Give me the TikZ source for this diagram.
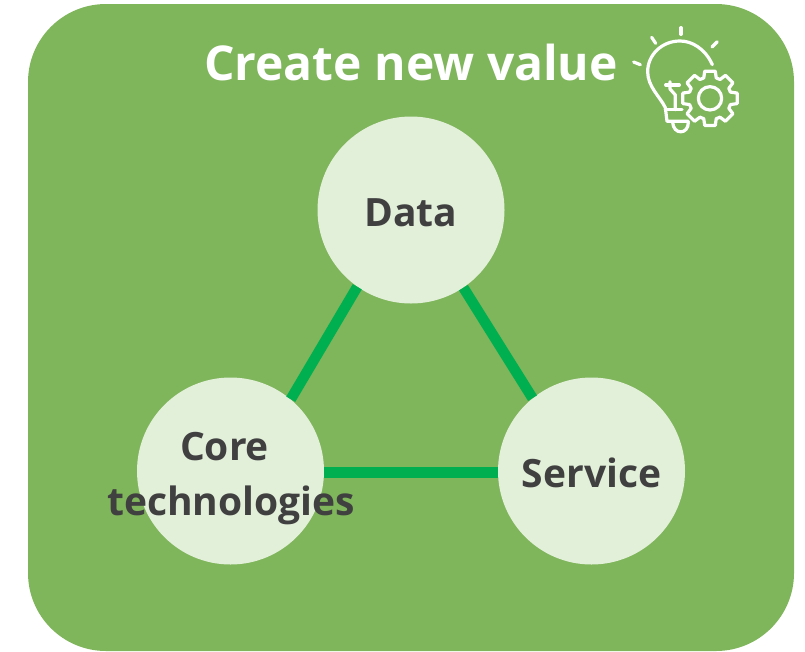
\documentclass[tikz,border=0pt]{standalone}
\usepackage{fontspec}
\setmainfont{Open Sans}
\usetikzlibrary{calc}
\definecolor{panel}{HTML}{7FB55B}
\definecolor{disc}{HTML}{E2EFD9}
\definecolor{link}{HTML}{00B050}
\definecolor{ink}{HTML}{404040}
\tikzset{
  disk/.style={circle,fill=disc,minimum size=187pt,inner sep=0pt},
  disklabel/.style={text=ink,inner sep=0pt,font=\fontsize{39}{55}\selectfont\bfseries,align=center},
  linkline/.style={draw=link,line width=10.5pt},
  icon/.style={draw=white,line width=3.2pt,line cap=round,line join=round}
}
\begin{document}
\begin{tikzpicture}[x=1pt,y=-1pt]
\useasboundingbox (0,0) rectangle (805,651);
\fill[panel,rounded corners=78pt] (28,4) rectangle (794,651);
\node[disk] (data) at (411,210) {};
\node[disk] (core) at (230.5,471) {};
\node[disk] (service) at (591.5,471) {};
\draw[linkline] (data.235.8) -- (core.50.7);
\draw[linkline] (data.304.7) -- (service.129.3);
\draw[linkline] (core.-1.9) -- (service.181.9);
\node[disklabel] (dataT) at (411,213) {Data};
\node[disklabel] (coreT) at (231,479) {Core\hspace{13pt}\null\\technologies};
\node[disklabel] (serviceT) at (591.5,473) {Service};
\node[text=white,font=\fontsize{48}{60}\selectfont\bfseries,inner sep=0pt] (title) at (411,62) {Create new value};
\begin{scope}[shift={(620,15)},x=0.3333pt,y=-0.3333pt,icon]
  \draw (183,38) -- (183,58);
  \draw (95,67) -- (107,85);
  \draw (292,80) -- (276,96);
  \draw (41,141) -- (61,149);
  \draw (277,149) .. controls (255,100) and (215,78) .. (180,78)
     .. controls (125,78) and (83,120) .. (83,170)
     .. controls (83,215) and (120,245) .. (136,278)
     -- (141,319) -- (205,319);
  \draw (136,284) -- (186,284);
  \draw (137,210) -- (178,210);
  \draw (150,200) -- (150,222) -- (166,240) -- (166,284);
  \draw (158,322) .. controls (160,360) and (205,360) .. (205,322);
  \draw (270,250) circle (35);
  \draw ($(270,250)+(-11:83)$)
    \foreach \a in {0,45,...,315} {
      -- ($(270,250)+(\a-11:83)$) -- ($(270,250)+(\a+11:83)$)
      -- ($(270,250)+(\a+17:64)$) -- ($(270,250)+(\a+28:64)$)
    } -- cycle;
\end{scope}
\end{tikzpicture}
\end{document}
